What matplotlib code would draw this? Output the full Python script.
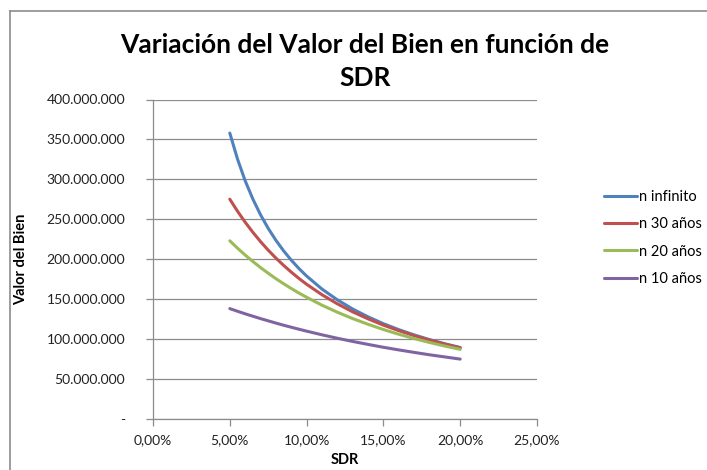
import numpy as np
import matplotlib.pyplot as plt
from matplotlib.lines import Line2D

plt.rcParams['font.family'] = ['Lato', 'DejaVu Sans']

# SDR (tasa de descuento) y valor del bien en millones
sdr = [0.05, 0.055, 0.06, 0.065, 0.07, 0.075, 0.08, 0.085, 0.09, 0.095,
       0.10, 0.11, 0.12, 0.13, 0.14, 0.15, 0.16, 0.17, 0.18, 0.19, 0.20]
n_inf = [358.0, 325.5, 298.3, 275.4, 255.7, 238.7, 223.8, 210.6, 198.9, 188.4,
         179.0, 162.7, 149.2, 137.7, 127.9, 119.3, 111.9, 105.3, 99.4, 94.2, 89.5]
n_30 = [275.2, 260.2, 246.4, 233.8, 222.1, 211.4, 201.5, 192.4, 183.9, 176.0,
        168.7, 155.6, 144.2, 134.2, 125.4, 117.5, 110.6, 104.3, 98.8, 93.7, 89.1]
n_20 = [223.1, 213.9, 205.3, 197.2, 189.6, 182.5, 175.7, 169.4, 163.4, 157.7,
        152.4, 142.5, 133.7, 125.7, 118.6, 112.0, 106.1, 100.7, 95.8, 91.3, 87.2]
n_10 = [138.2, 134.9, 131.7, 128.7, 125.7, 122.9, 120.1, 117.4, 114.9, 112.4,
        110.0, 105.4, 101.1, 97.1, 93.4, 89.8, 86.5, 83.4, 80.4, 77.7, 75.0]

series_names = ['n infinito', 'n 30 años', 'n 20 años', 'n 10 años']
series_colors = ['#4F81BD', '#C0504D', '#9BBB59', '#8064A2']

x_ticks = [0.0, 0.05, 0.10, 0.15, 0.20, 0.25]
x_labels = ['0,00%', '5,00%', '10,00%', '15,00%', '20,00%', '25,00%']
y_ticks = [0, 50, 100, 150, 200, 250, 300, 350, 400]
y_labels = ['-', '50.000.000', '100.000.000', '150.000.000', '200.000.000',
            '250.000.000', '300.000.000', '350.000.000', '400.000.000']

fig = plt.figure(figsize=(7.07, 4.70), dpi=100)
ax = fig.add_axes([153/707, 1 - 419/470, (537 - 153)/707, (419 - 99.5)/470])

grid_c = '#8C8C8C'
for vals, name, col in zip([n_inf, n_30, n_20, n_10], series_names, series_colors):
    ax.plot(sdr, vals, color=col, lw=2.2, label=name, solid_capstyle='round')

ax.set_xlim(0, 0.25)
ax.set_ylim(0, 400)
ax.set_xticks(x_ticks)
ax.set_xticklabels(x_labels, fontsize=10, color='#222222')
ax.set_yticks(y_ticks)
ax.set_yticklabels(y_labels, fontsize=10, color='#222222')
ax.yaxis.grid(True, color=grid_c, lw=0.9)
ax.set_axisbelow(True)
ax.tick_params(axis='both', direction='out', length=5, color=grid_c, width=0.9)
ax.tick_params(axis='y', pad=15)
ax.tick_params(axis='x', pad=6)
for s in ['top', 'right']:
    ax.spines[s].set_visible(False)
for s in ['left', 'bottom']:
    ax.spines[s].set_color(grid_c)
    ax.spines[s].set_linewidth(0.9)

ax.set_xlabel('SDR', fontsize=10.5, fontweight='bold', va='center')
ax.set_ylabel('Valor del Bien', fontsize=10.5, fontweight='bold', va='center')
ax.xaxis.set_label_coords(0.5, -41/320, transform=ax.transAxes)
ax.yaxis.set_label_coords(-132/384, 0.5, transform=ax.transAxes)

fig.text(365/707, 1 - 45/470, 'Variación del Valor del Bien en función de',
         ha='center', va='center', fontsize=19, fontweight='bold')
fig.text(365/707, 1 - 78/470, 'SDR', ha='center', va='center',
         fontsize=19, fontweight='bold')

leg = fig.legend(loc='center left', bbox_to_anchor=(598/707, 1 - 238/470),
                 frameon=False, fontsize=10.5, handlelength=2.3,
                 handletextpad=0.1, labelspacing=0.9, borderaxespad=0)

# marco del area del grafico
fig.add_artist(Line2D([9.5/707, 9.5/707], [0, 1 - 10.5/470],
                      transform=fig.transFigure, color='#8C8C8C', lw=1.2))
fig.add_artist(Line2D([9.5/707, 1], [1 - 10.5/470, 1 - 10.5/470],
                      transform=fig.transFigure, color='#8C8C8C', lw=1.2))

fig.savefig('out.png', dpi=100)
